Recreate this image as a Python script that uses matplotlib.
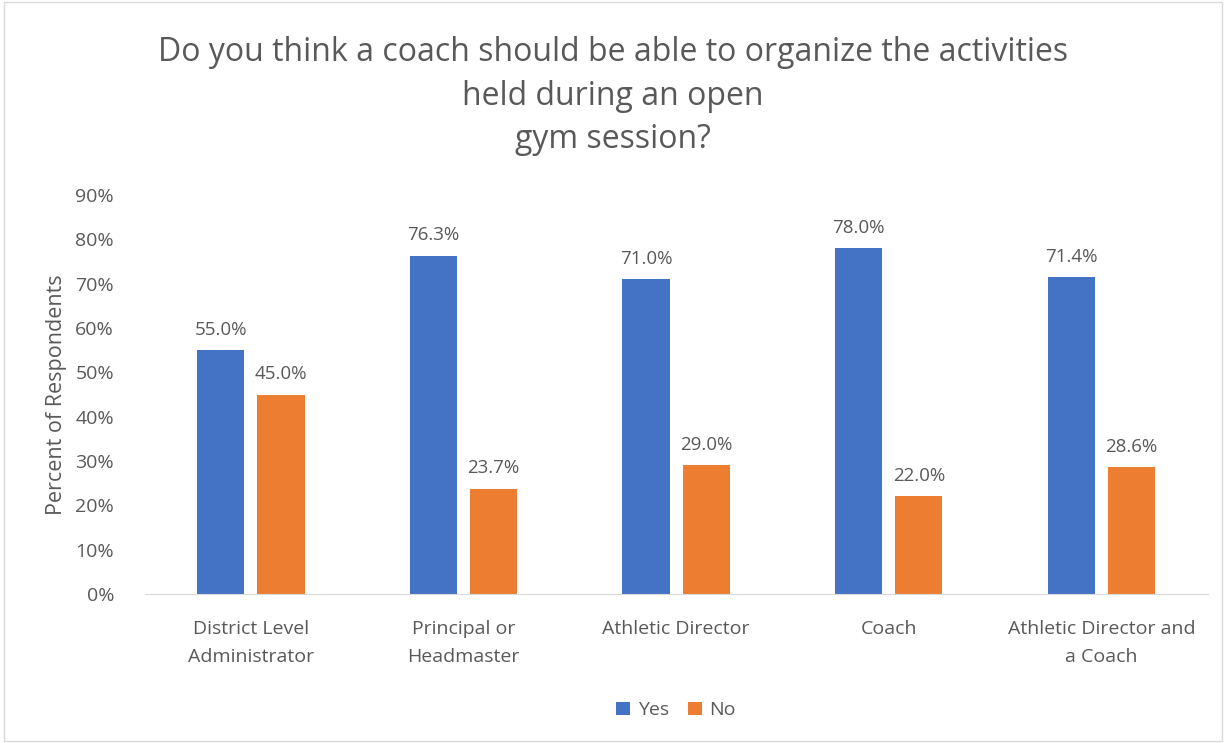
import matplotlib.pyplot as plt
import numpy as np
from matplotlib.patches import Rectangle

categories = ['District Level\nAdministrator', 'Principal or\nHeadmaster', 'Athletic Director',
              'Coach', 'Athletic Director and\na Coach']
yes = [55.0, 76.3, 71.0, 78.0, 71.4]
no = [45.0, 23.7, 29.0, 22.0, 28.6]

plt.rcParams['font.family'] = ['Open Sans', 'DejaVu Sans']
grey = '#595959'

fig = plt.figure(figsize=(12.26, 7.43), dpi=100)
ax = fig.add_axes([0.118, 0.2005, 0.867, 0.537])

x = np.arange(len(categories))
w = 0.222
off = 0.1415
b1 = ax.bar(x - off, yes, w, color='#4472C4', label='Yes')
b2 = ax.bar(x + off, no, w, color='#ED7D31', label='No')

for bars, vals in [(b1, yes), (b2, no)]:
    for b, v in zip(bars, vals):
        ax.text(b.get_x() + b.get_width() / 2, v + 2.6, f'{v:.1f}%', ha='center', va='bottom',
                fontsize=13.5, color=grey)

ax.set_xlim(-0.5, len(categories) - 0.5)
ax.set_ylim(0, 90)
ax.set_yticks(np.arange(0, 91, 10))
ax.set_yticklabels([f'{t}%' for t in range(0, 91, 10)])
ax.set_xticks(x)
ax.set_xticklabels(categories, linespacing=1.65)
ax.tick_params(axis='both', length=0, labelsize=14, labelcolor=grey)
ax.tick_params(axis='x', pad=19)
ax.tick_params(axis='y', pad=22)
for s in ['top', 'right', 'left']:
    ax.spines[s].set_visible(False)
ax.spines['bottom'].set_color('#D9D9D9')
ax.set_ylabel('Percent of Respondents', fontsize=15.5, color=grey, labelpad=6)

fig.text(0.5, 0.951, 'Do you think a coach should be able to organize the activities\nheld during an open\ngym session?',
         ha='center', va='top', fontsize=23, color=grey, linespacing=1.42)

ax.legend(loc='upper center', bbox_to_anchor=(0.5, -0.225), ncol=2, frameon=False, fontsize=14,
          labelcolor=grey, handlelength=0.7, handleheight=0.7, handletextpad=0.4, columnspacing=1.0)

fig.patches.append(Rectangle((0.003, 0.003), 0.994, 0.994, transform=fig.transFigure,
                             fill=False, edgecolor='#D9D9D9', linewidth=1))

fig.savefig('out.png', dpi=100)
